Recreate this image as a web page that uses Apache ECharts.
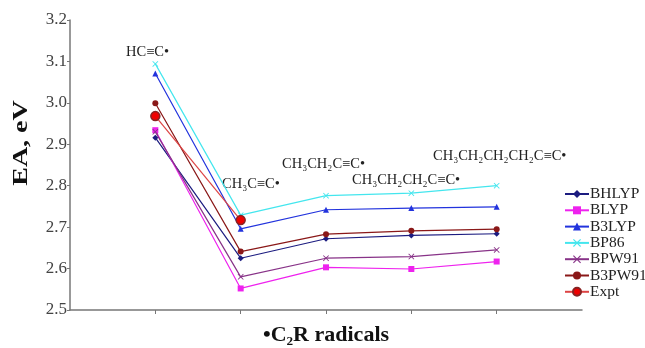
<!DOCTYPE html>
<html><head><meta charset="utf-8">
<script src="https://cdn.jsdelivr.net/npm/echarts@6/dist/echarts.min.js"></script>
<style>html,body{margin:0;padding:0;background:#fff}#c{width:645px;height:348px}</style>
</head><body><div id="c"></div>
<script>
const categories = ['', 'HC≡C•', 'CH₃C≡C•', 'CH₃CH₂C≡C•', 'CH₃CH₂CH₂C≡C•', 'CH₃CH₂CH₂CH₂C≡C•', ''];
const BHLYP  = [null, 2.916, 2.625, 2.672, 2.680, 2.684, null];
const BLYP   = [null, 2.934, 2.552, 2.603, 2.599, 2.617, null];
const B3LYP  = [null, 3.071, 2.696, 2.742, 2.746, 2.749, null];
const BP86   = [null, 3.094, 2.729, 2.776, 2.782, 2.800, null];
const BPW91  = [null, 2.930, 2.580, 2.625, 2.629, 2.645, null];
const B3PW91 = [null, 2.999, 2.641, 2.683, 2.691, 2.695, null];
const Expt   = [null, 2.968, 2.717, null, null, null, null];
const yTicks = [2.5, 2.6, 2.7, 2.8, 2.9, 3.0, 3.1, 3.2];

const serif = 'Liberation Serif';
const xSym = 'path://M0,1 L1,0 L5,4 L9,0 L10,1 L6,5 L10,9 L9,10 L5,6 L1,10 L0,9 L4,5 Z';

function mk(name, data, color, symbol, size, extra) {
  return Object.assign({
    name, type: 'line', data, symbol, symbolSize: size,
    connectNulls: false,
    lineStyle: { color, width: 1.2 },
    itemStyle: { color },
    emphasis: { disabled: true },
    animation: false
  }, extra || {});
}

const chart = echarts.init(document.getElementById('c'));
chart.setOption({
  animation: false,
  grid: { left: 70, right: 63, top: 20, bottom: 38, containLabel: false, outerBoundsMode: 'none' },
  xAxis: {
    type: 'category', data: categories, boundaryGap: false,
    axisLine: { lineStyle: { color: '#777', width: 1.5 } },
    axisTick: { interval: (i) => i > 0 && i < categories.length - 1, lineStyle: { color: '#777' }, length: 4 },
    axisLabel: { show: false },
    name: '•C₂R radicals', nameLocation: 'middle', nameGap: 14,
    nameTextStyle: { fontFamily: serif, fontWeight: 'bold', fontSize: 22, color: '#111' }
  },
  yAxis: {
    type: 'value', min: 2.5, max: 3.2, interval: 0.1,
    splitLine: { show: false },
    axisLine: { show: true, lineStyle: { color: '#777', width: 1.5 } },
    axisTick: { show: true, length: 3, lineStyle: { color: '#777' } },
    axisLabel: { fontFamily: serif, fontSize: 17, color: '#444', margin: 3,
      formatter: v => { const t = yTicks.find(x => Math.abs(x - v) < 1e-6); return t !== undefined ? t.toFixed(1) : ''; } }
  },
  legend: {
    orient: 'vertical', left: 559, top: 181, itemGap: 0.3, itemWidth: 24, itemHeight: 10,
    textStyle: { fontFamily: serif, fontSize: 15.5, lineHeight: 14, color: '#222', padding: [0,0,0,-4] },
    data: ['BHLYP', 'BLYP', 'B3LYP', 'BP86', 'BPW91', 'B3PW91', 'Expt']
  },
  graphic: [
    { type: 'text', x: 22, y: 143, rotation: Math.PI / 2, scaleX: 1.4,
      style: { text: 'EA, eV', font: 'bold 20px ' + serif, fill: '#111', textAlign: 'center', textVerticalAlign: 'middle' } },
    { type: 'text', left: 126, top: 45, style: { text: categories[1], font: '14.5px ' + serif, fill: '#222' } },
    { type: 'text', left: 222, top: 177, style: { text: categories[2], font: '14.5px ' + serif, fill: '#222' } },
    { type: 'text', left: 282, top: 157, style: { text: categories[3], font: '14.5px ' + serif, fill: '#222' } },
    { type: 'text', left: 352, top: 173, style: { text: categories[4], font: '14.5px ' + serif, fill: '#222' } },
    { type: 'text', left: 433, top: 149, style: { text: categories[5], font: '14.5px ' + serif, fill: '#222' } }
  ],
  series: [
    mk('BHLYP', BHLYP, '#1c1c80', 'diamond', 6),
    mk('BLYP', BLYP, '#ee22ee', 'rect', 6),
    mk('B3LYP', B3LYP, '#2233dd', 'triangle', 6),
    mk('BP86', BP86, '#44e6ee', xSym, 6),
    mk('BPW91', BPW91, '#883388', xSym, 6),
    mk('B3PW91', B3PW91, '#8a1818', 'circle', 6),
    mk('Expt', Expt, '#dd4444', 'circle', 9, { itemStyle: { color: '#ee0000', borderColor: '#882222', borderWidth: 1.5 } })
  ]
});
</script></body></html>
